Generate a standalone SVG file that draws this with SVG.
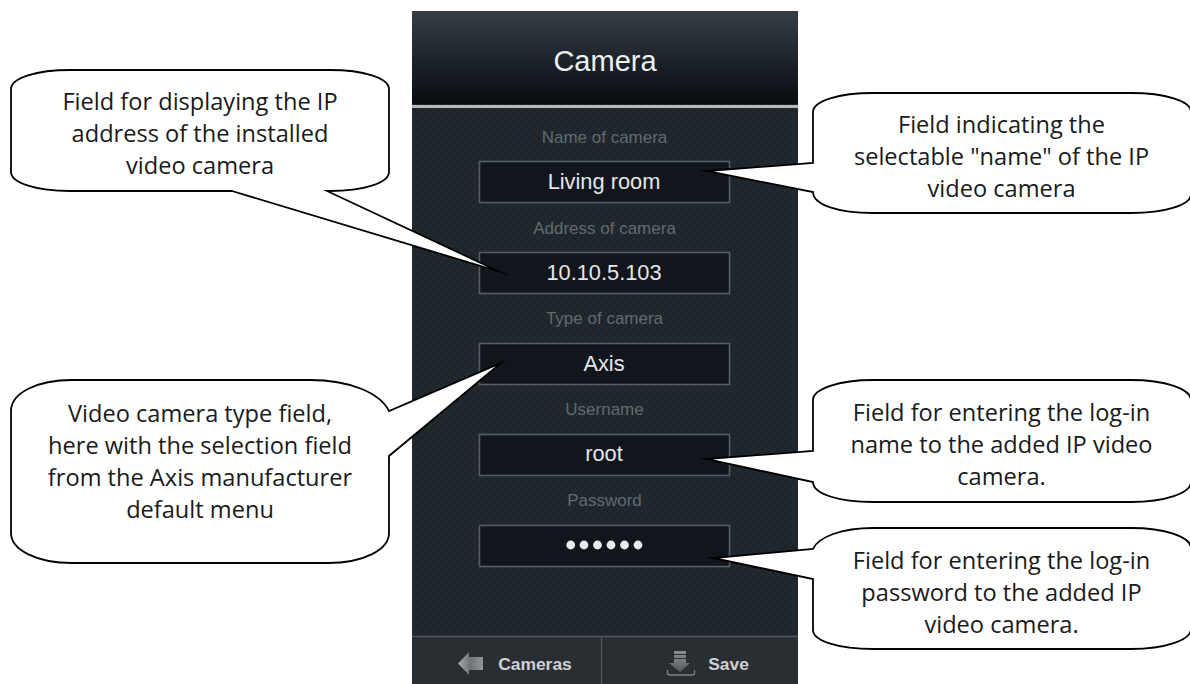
<svg xmlns="http://www.w3.org/2000/svg" width="1190" height="684" viewBox="0 0 1190 684">
<style>
.c{fill:#fff;stroke:#000;stroke-width:1.8;stroke-linejoin:miter;stroke-miterlimit:30}
.t{font-family:"Open Sans","Noto Sans",sans-serif;font-size:23.6px;fill:#1a1a1a;text-anchor:middle}
.u{font-family:"Liberation Sans",Arial,sans-serif;text-anchor:middle}
.l{font-size:17px;fill:#626a70}
.v{font-size:21.8px;fill:#e4e6e7}
.b{font-size:17.4px;font-weight:bold;fill:#cfd1d3}
.f{fill:#10161c;stroke:#565e63;stroke-width:1.6}
</style>
<defs>
<linearGradient id="h" x1="0" y1="0" x2="0" y2="1"><stop offset="0" stop-color="#353c44"/><stop offset=".45" stop-color="#20272e"/><stop offset="1" stop-color="#090d11"/></linearGradient>
<linearGradient id="a" x1="0" y1="0" x2="1" y2="0"><stop offset="0" stop-color="#a6a9ab"/><stop offset=".5" stop-color="#6e7275"/><stop offset="1" stop-color="#94979a"/></linearGradient>
<linearGradient id="s" x1="0" y1="0" x2="0" y2="1"><stop offset="0" stop-color="#8c9093"/><stop offset="1" stop-color="#55595c"/></linearGradient>
<pattern id="tex" width="8" height="8" patternUnits="userSpaceOnUse"><rect width="8" height="8" fill="#1f272d"/><path d="M0 8L8 0" stroke="#232b31" stroke-width="1.2"/><path d="M0 0L8 8" stroke="#1c2329" stroke-width="1"/></pattern>
</defs>
<rect width="1190" height="684" fill="#fff"/>
<g id="phone">
<rect x="412" y="11" width="386" height="673" fill="url(#tex)"/>
<rect x="412" y="11" width="386" height="93" fill="url(#h)"/>
<rect x="412" y="105" width="386" height="3" fill="#b4b8ba"/>
<text class="u" x="605" y="71" font-size="29" fill="#eef0f1">Camera</text>
<rect x="412" y="636" width="386" height="48" fill="#292e33"/>
<path d="M412 636.500H798M601.500 636V684" stroke="#50575d" stroke-width="1.4" fill="none"/>
</g>
<g id="field-name"><text class="u l" x="604.500" y="143">Name of camera</text><rect class="f" x="479.500" y="161.500" width="250" height="41"/><text class="u v" x="604" y="189">Living room</text></g>
<g id="field-address"><text class="u l" x="604.500" y="234">Address of camera</text><rect class="f" x="479.500" y="252.500" width="250" height="41"/><text class="u v" x="604" y="280">10.10.5.103</text></g>
<g id="field-type"><text class="u l" x="604.500" y="324">Type of camera</text><rect class="f" x="479.500" y="343.500" width="250" height="41"/><text class="u v" x="604" y="371">Axis</text></g>
<g id="field-username"><text class="u l" x="604.500" y="415">Username</text><rect class="f" x="479.500" y="434.500" width="250" height="41"/><text class="u v" x="604" y="461">root</text></g>
<g id="field-password"><text class="u l" x="604.500" y="506">Password</text><rect class="f" x="479.500" y="525.500" width="250" height="41"/>
<g fill="#e8eaeb"><circle cx="570.700" cy="545" r="4.400"/><circle cx="584" cy="545" r="4.400"/><circle cx="597.500" cy="545" r="4.400"/><circle cx="611" cy="545" r="4.400"/><circle cx="624.500" cy="545" r="4.400"/><circle cx="638" cy="545" r="4.400"/></g></g>
<g id="button-cameras"><path d="M458 663.500L469 652V657H483V670H469V675Z" fill="url(#a)"/><text class="u b" x="535" y="670">Cameras</text></g>
<g id="button-save"><path d="M674 651H686V654H674ZM674 655H686V658H674ZM674 659H686V663H690L680 672L669 663H674Z" fill="url(#s)"/><path d="M667.500 670V673Q667.500 675 670 675H692Q694.500 675 694.500 673V670" fill="none" stroke="#7d8184" stroke-width="1.3"/><text class="u b" x="728.500" y="670">Save</text></g>
<g id="connectors">
<g id="callout-address"><path class="c" d="M232 191L499 271.500L327 191H330C363 191 389 183 389 172V89C389 78 363 70 330 70H70C37 70 11 78 11 89V172C11 183 37 191 70 191Z"/>
<text class="t"><tspan x="200" y="110">Field for displaying the IP</tspan><tspan x="200" y="142">address of the installed</tspan><tspan x="200" y="174">video camera</tspan></text></g>
<g id="callout-name"><path class="c" d="M813 163V112C813 101 839 93 873 93H1131C1165 93 1191 101 1191 112V194C1191 205 1165 213 1131 213H873C839 213 813 205 813 192L706.500 171Z"/>
<text class="t"><tspan x="1001.500" y="133">Field indicating the</tspan><tspan x="1001.500" y="165">selectable "name" of the IP</tspan><tspan x="1001.500" y="197">video camera</tspan></text></g>
<g id="callout-type"><path class="c" d="M389 411C380 393 350 380 310 380H72C37 380 11 393 11 411V533C11 550 37 563 72 563H328C363 563 389 550 389 533V456L501 363Z"/>
<text class="t"><tspan x="200" y="422">Video camera type field,</tspan><tspan x="200" y="454">here with the selection field</tspan><tspan x="200" y="486">from the Axis manufacturer</tspan><tspan x="200" y="518">default menu</tspan></text></g>
<g id="callout-username"><path class="c" d="M813 451V400C813 389 839 380 873 380H1131C1165 380 1191 389 1191 400V482C1191 493 1165 502 1131 502H873C839 502 813 494 813 482L706 459Z"/>
<text class="t"><tspan x="1001.500" y="421">Field for entering the log-in</tspan><tspan x="1001.500" y="453">name to the added IP video</tspan><tspan x="1001.500" y="485">camera.</tspan></text></g>
<g id="callout-password"><path class="c" d="M813 549C818 537 842 528 873 528H1131C1165 528 1191 537 1191 548V629C1191 640 1165 649 1131 649H873C839 649 813 641 813 630V579L713 558Z"/>
<text class="t"><tspan x="1001.500" y="569">Field for entering the log-in</tspan><tspan x="1001.500" y="601">password to the added IP</tspan><tspan x="1001.500" y="633">video camera.</tspan></text></g>
</g>
</svg>
